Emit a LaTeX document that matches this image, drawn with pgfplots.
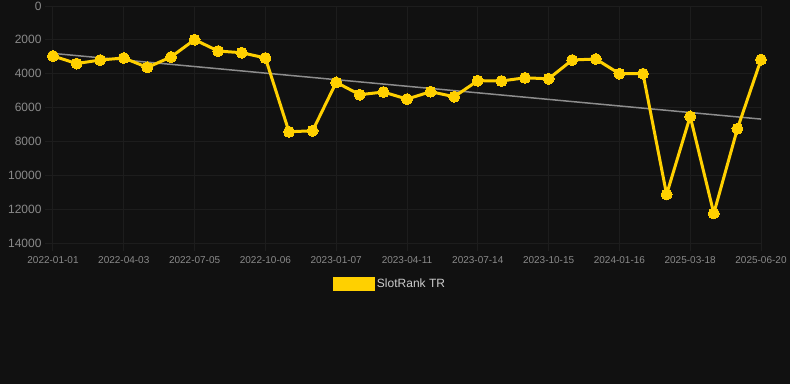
\documentclass[border=0pt]{standalone}
\usepackage{pgfplots}
\pgfplotsset{compat=1.18}
\usepackage{fontspec}
\setmainfont{Liberation Sans}
\definecolor{bg}{HTML}{111111}
\definecolor{gridc}{HTML}{1D1D1D}
\definecolor{tickc}{HTML}{8A8A8A}
\definecolor{gold}{HTML}{FFD000}
\definecolor{trend}{HTML}{8C8C8C}
\definecolor{legtext}{HTML}{CCCCCC}
\begin{document}
\begin{tikzpicture}
\fill[bg] (-53pt,-141pt) rectangle (737pt,243pt);
\begin{axis}[
  at={(0pt,0pt)}, anchor=south west,
  scale only axis, width=708pt, height=237pt,
  xmin=0, xmax=30, ymin=0, ymax=14000, y dir=reverse,
  clip=false,
  xtick={0,3,...,30},
  xticklabels={2022-01-01,2022-04-03,2022-07-05,2022-10-06,2023-01-07,2023-04-11,2023-07-14,2023-10-15,2024-01-16,2025-03-18,2025-06-20},
  ytick={0,2000,...,14000},
  /pgf/number format/assume math mode=true,
  /pgf/number format/1000 sep={},
  scaled y ticks=false,
  yticklabel style={font=\fontsize{12}{14}\selectfont, text=tickc},
  xticklabel style={font=\fontsize{10}{12}\selectfont, text=tickc, yshift=-1.5pt},
  grid=major, major grid style={gridc, line width=1pt},
  axis line style={gridc, line width=1pt},
  tick align=outside, major tick length=8pt,
  tick style={gridc, line width=1pt},
  tick pos=left,
  legend style={at={(0.476,-0.173)}, anchor=center, draw=none, fill=none,
    text=legtext, font=\fontsize{12}{14}\selectfont},
]
\addplot[trend, line width=1.5pt, forget plot] coordinates {(0,2800) (30,6680)};
\addplot[gold, line width=3pt, mark=*, mark size=5.5pt,
  mark options={solid, fill=gold, draw=gold, line width=0pt},
  legend image code/.code={\fill[gold] (0pt,-5.5pt) rectangle (39pt,5.5pt);}]
coordinates {
(0,2950) (1,3400) (2,3190) (3,3070) (4,3630) (5,3010) (6,1990) (7,2660)
(8,2760) (9,3070) (10,7430) (11,7370) (12,4510) (13,5240) (14,5080)
(15,5500) (16,5060) (17,5360) (18,4410) (19,4430) (20,4240) (21,4300)
(22,3190) (23,3130) (24,4000) (25,4000) (26,11130) (27,6520) (28,12250)
(29,7250) (30,3170)
};
\addlegendentry{SlotRank TR}
\end{axis}
\pgfresetboundingbox
\path[use as bounding box] (-53pt,-141pt) rectangle (737pt,243pt);
\end{tikzpicture}
\end{document}
